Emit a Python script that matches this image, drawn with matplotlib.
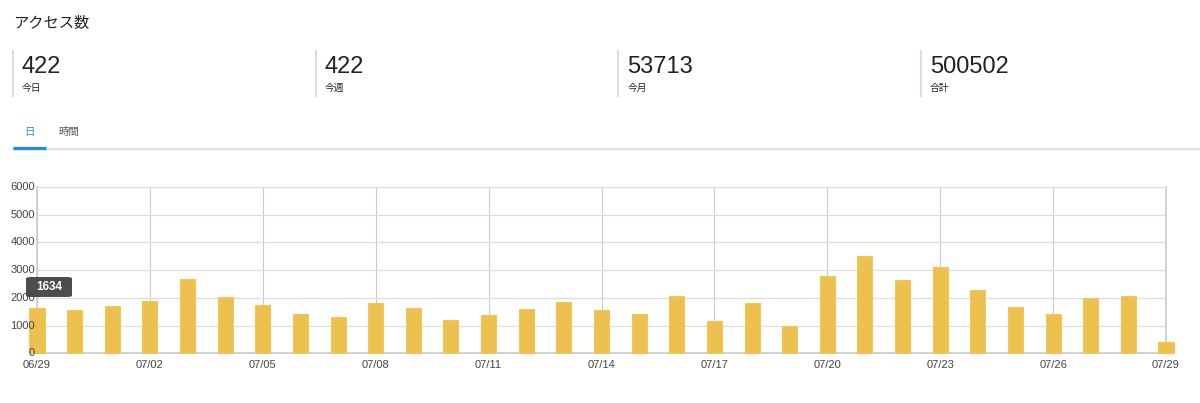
import matplotlib
matplotlib.use("Agg")
import matplotlib.pyplot as plt
from matplotlib.lines import Line2D
from matplotlib.patches import FancyBboxPatch
from matplotlib.transforms import offset_copy

plt.rcParams['font.family'] = ['Liberation Sans', 'Noto Sans CJK JP', 'DejaVu Sans']

W, H = 1200, 403

title = "アクセス数"
stat_values = ["422", "422", "53713", "500502"]
stat_labels = ["今日", "今週", "今月", "合計"]
tabs = ["日", "時間"]

days = ["06/29", "06/30", "07/01", "07/02", "07/03", "07/04", "07/05", "07/06",
        "07/07", "07/08", "07/09", "07/10", "07/11", "07/12", "07/13", "07/14",
        "07/15", "07/16", "07/17", "07/18", "07/19", "07/20", "07/21", "07/22",
        "07/23", "07/24", "07/25", "07/26", "07/27", "07/28", "07/29"]
visits = [1634, 1566, 1711, 1892, 2663, 2036, 1747, 1422, 1313, 1819,
          1639, 1217, 1398, 1602, 1843, 1578, 1434, 2060, 1157, 1807,
          1000, 2795, 3506, 2651, 3120, 2289, 1675, 1422, 2000, 2060, 422]
y_ticks = [0, 1000, 2000, 3000, 4000, 5000, 6000]
tooltip_index = 0

bar_color = "#ecc14f"
text_dark = "#222222"


def fx(px):
    return px / W


def fy(py):
    return 1 - py / H


fig = plt.figure(figsize=(12, 4.03), dpi=100)

# header
fig.text(fx(13), fy(24), title, fontsize=11, color=text_dark, va="center", ha="left")

for i, (val, lab) in enumerate(zip(stat_values, stat_labels)):
    x0 = 13 + i * 302.7
    fig.add_artist(Line2D([fx(x0), fx(x0)], [fy(51), fy(96)], color="#dddddd", lw=1.5))
    fig.text(fx(x0 + 9), fy(67), val, fontsize=17, color=text_dark, va="center", ha="left")
    fig.text(fx(x0 + 9), fy(88), lab, fontsize=7, color=text_dark, va="center", ha="left")

# tabs
fig.text(fx(29), fy(132), tabs[0], fontsize=7.5, color="#2a8ad8", va="center", ha="center")
fig.text(fx(58), fy(132), tabs[1], fontsize=7.5, color="#555555", va="center", ha="left")
fig.add_artist(Line2D([fx(13), fx(1200)], [fy(149), fy(149)], color="#d9e1e4", lw=1.6))
fig.add_artist(Line2D([fx(13), fx(46)], [fy(148), fy(148)], color="#2a8ad8", lw=2.4,
                      solid_capstyle="butt"))

# chart
left, right, top, bottom = 37, 1166, 187, 353.3
ax = fig.add_axes([fx(left), fy(bottom), fx(right - left), (bottom - top) / H])

x = list(range(len(days)))
bars = ax.bar(x, visits, width=0.4, color=bar_color, edgecolor="#f0c85a", linewidth=0.8,
              zorder=3)
for b in bars:
    b.set_clip_on(False)

ax.set_xlim(0, len(days) - 1)
ax.set_ylim(0, 6000)
ax.set_yticks(y_ticks)
ax.set_yticklabels([])
# y labels drawn as texts so they sit on top of the first bar, like the original
ylab_tr = offset_copy(ax.get_yaxis_transform(), fig=fig, x=-1.5, units="points")
for v in y_ticks:
    ax.text(0, v, str(v), transform=ylab_tr, ha="right", va="center",
            fontsize=8, color="#444444", clip_on=False, zorder=6)
ax.set_xticks(x[::3])
ax.set_xticklabels(days[::3])
ax.tick_params(axis="both", length=0, labelsize=8, colors="#444444")
ax.tick_params(axis="x", pad=5)
ax.grid(axis="y", color="#dddddd", lw=0.9, zorder=0)
ax.grid(axis="x", color="#cccccc", lw=0.8, zorder=0)
for side in ["left", "bottom", "right"]:
    ax.spines[side].set_color("#cccccc")
    ax.spines[side].set_linewidth(1.2)
ax.spines["top"].set_color("#dddddd")

# tooltip
tx, ty = 49, 287
box = FancyBboxPatch((fx(26), fy(297)), fx(46), 20 / H,
                     boxstyle="round,pad=0,rounding_size=0.004",
                     transform=fig.transFigure, facecolor="#3a3a3a", edgecolor="none",
                     alpha=0.9, zorder=10)
fig.add_artist(box)
fig.text(fx(tx), fy(ty), str(visits[tooltip_index]), fontsize=8.5, color="white",
         fontweight="bold", va="center", ha="center", zorder=11)

fig.savefig("out.png", dpi=100)
